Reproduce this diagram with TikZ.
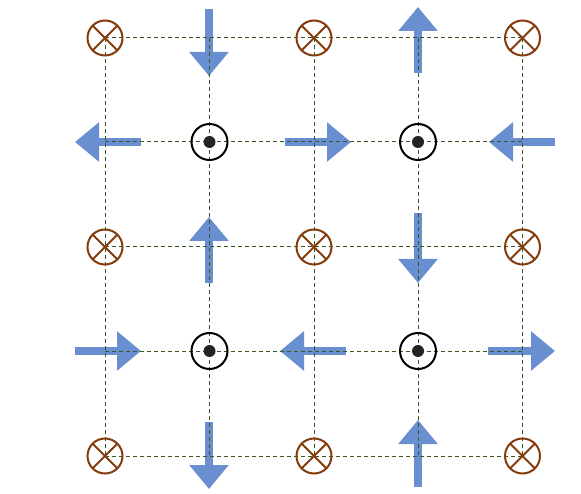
\documentclass[tikz,border=0pt]{standalone}
\usetikzlibrary{arrows.meta}
\definecolor{arrowblue}{RGB}{106,143,208}
\definecolor{gridgreen}{RGB}{56,87,35}
\definecolor{crossbrown}{RGB}{132,60,12}
\definecolor{dotgray}{RGB}{34,38,34}
\begin{document}
\begin{tikzpicture}[x=1pt,y=-1pt,
  flow/.style={draw=arrowblue, line width=8pt, -{Triangle[width=38pt,length=24pt]}},
  gridline/.style={draw=gridgreen, dash pattern=on 4pt off 3pt, line width=1pt},
  into/.style={circle, draw=crossbrown, line width=2pt, minimum size=35pt, inner sep=0pt,
    path picture={\draw[crossbrown, line width=1.8pt] (path picture bounding box.north west) -- (path picture bounding box.south east)
      (path picture bounding box.north east) -- (path picture bounding box.south west);}},
  outof/.style={circle, draw=black, line width=2pt, minimum size=36pt, inner sep=0pt,
    path picture={\fill[dotgray] (path picture bounding box.center) circle (6pt);}}]
\useasboundingbox (0,0) rectangle (581,494);
% grid coordinates
\foreach \i/\x in {0/105,1/209.5,2/314,3/418,4/522.5}{
  \foreach \j/\y in {0/38,1/142,2/247,3/351,4/456}{
    \coordinate (g\i\j) at (\x,\y);
  }
}
% arrow end points
\coordinate (a1s) at (209,9);   \coordinate (a1e) at (209,76);
\coordinate (a2s) at (418,73);  \coordinate (a2e) at (418,7);
\coordinate (a3s) at (141,142); \coordinate (a3e) at (75,142);
\coordinate (a4s) at (285,142); \coordinate (a4e) at (351,142);
\coordinate (a5s) at (555,142); \coordinate (a5e) at (489,142);
\coordinate (a6s) at (209,283); \coordinate (a6e) at (209,217);
\coordinate (a7s) at (418,213); \coordinate (a7e) at (418,283);
\coordinate (a8s) at (75,351);  \coordinate (a8e) at (141,351);
\coordinate (a9s) at (346,351); \coordinate (a9e) at (280,351);
\coordinate (a10s) at (488,351); \coordinate (a10e) at (555,351);
\coordinate (a11s) at (209,422); \coordinate (a11e) at (209,489);
\coordinate (a12s) at (418,487); \coordinate (a12e) at (418,420);
% arrows
\foreach \k in {1,...,12}{
  \draw[flow] (a\k s) -- (a\k e);
}
% dashed grid
\foreach \j in {0,...,4}{
  \draw[gridline] (g0\j) -- (g4\j);
  \draw[gridline] (g\j0) -- (g\j4);
}
% currents into the page
\foreach \i in {0,2,4}{
  \foreach \j in {0,2,4}{
    \node[into] (c\i\j) at (g\i\j) {};
  }
}
% currents out of the page
\foreach \i in {1,3}{
  \foreach \j in {1,3}{
    \node[outof] (d\i\j) at (g\i\j) {};
  }
}
\end{tikzpicture}
\end{document}
